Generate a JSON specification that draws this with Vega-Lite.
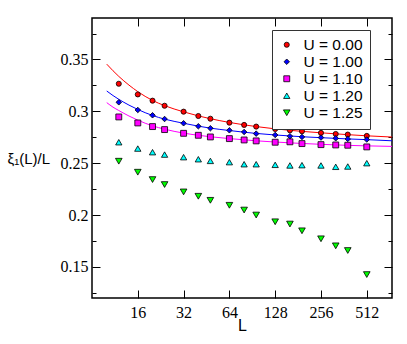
{
  "$schema": "https://vega.github.io/schema/vega-lite/v6.json",
  "width": 300,
  "height": 280,
  "autosize": "none",
  "padding": {"left": 92, "top": 18, "right": 15, "bottom": 46},
  "background": "white",
  "config": {
    "view": {"stroke": "black", "strokeWidth": 1.5},
    "axis": {"grid": false, "domain": false, "tickColor": "black", "tickWidth": 1, "labelColor": "black", "titleColor": "black"}
  },
  "datasets": {
    "pts": [
      {"U": "0.00", "L": 12, "xi": 0.3266}, {"U": "0.00", "L": 16, "xi": 0.3163}, {"U": "0.00", "L": 20, "xi": 0.3103}, {"U": "0.00", "L": 24, "xi": 0.3054}, {"U": "0.00", "L": 32, "xi": 0.2997}, {"U": "0.00", "L": 40, "xi": 0.2955}, {"U": "0.00", "L": 48, "xi": 0.2929}, {"U": "0.00", "L": 64, "xi": 0.2891}, {"U": "0.00", "L": 80, "xi": 0.2869}, {"U": "0.00", "L": 96, "xi": 0.2853}, {"U": "0.00", "L": 128, "xi": 0.2830}, {"U": "0.00", "L": 160, "xi": 0.2817}, {"U": "0.00", "L": 192, "xi": 0.2808}, {"U": "0.00", "L": 256, "xi": 0.2792}, {"U": "0.00", "L": 320, "xi": 0.2782}, {"U": "0.00", "L": 384, "xi": 0.2776}, {"U": "0.00", "L": 512, "xi": 0.2763},
      {"U": "1.00", "L": 12, "xi": 0.3087}, {"U": "1.00", "L": 16, "xi": 0.3013}, {"U": "1.00", "L": 20, "xi": 0.2962}, {"U": "1.00", "L": 24, "xi": 0.2926}, {"U": "1.00", "L": 32, "xi": 0.2885}, {"U": "1.00", "L": 40, "xi": 0.2856}, {"U": "1.00", "L": 48, "xi": 0.2837}, {"U": "1.00", "L": 64, "xi": 0.2817}, {"U": "1.00", "L": 80, "xi": 0.2801}, {"U": "1.00", "L": 96, "xi": 0.2785}, {"U": "1.00", "L": 128, "xi": 0.2772}, {"U": "1.00", "L": 160, "xi": 0.2760}, {"U": "1.00", "L": 192, "xi": 0.2753}, {"U": "1.00", "L": 256, "xi": 0.2747}, {"U": "1.00", "L": 320, "xi": 0.2740}, {"U": "1.00", "L": 384, "xi": 0.2734}, {"U": "1.00", "L": 512, "xi": 0.2728},
      {"U": "1.10", "L": 12, "xi": 0.2946}, {"U": "1.10", "L": 16, "xi": 0.2888}, {"U": "1.10", "L": 20, "xi": 0.2853}, {"U": "1.10", "L": 24, "xi": 0.2824}, {"U": "1.10", "L": 32, "xi": 0.2788}, {"U": "1.10", "L": 40, "xi": 0.2769}, {"U": "1.10", "L": 48, "xi": 0.2753}, {"U": "1.10", "L": 64, "xi": 0.2737}, {"U": "1.10", "L": 80, "xi": 0.2724}, {"U": "1.10", "L": 96, "xi": 0.2715}, {"U": "1.10", "L": 128, "xi": 0.2702}, {"U": "1.10", "L": 160, "xi": 0.2706}, {"U": "1.10", "L": 192, "xi": 0.2689}, {"U": "1.10", "L": 256, "xi": 0.2679}, {"U": "1.10", "L": 320, "xi": 0.2676}, {"U": "1.10", "L": 384, "xi": 0.2673}, {"U": "1.10", "L": 512, "xi": 0.2657},
      {"U": "1.20", "L": 12, "xi": 0.2702}, {"U": "1.20", "L": 16, "xi": 0.2641}, {"U": "1.20", "L": 20, "xi": 0.2606}, {"U": "1.20", "L": 24, "xi": 0.2583}, {"U": "1.20", "L": 32, "xi": 0.2558}, {"U": "1.20", "L": 40, "xi": 0.2538}, {"U": "1.20", "L": 48, "xi": 0.2522}, {"U": "1.20", "L": 64, "xi": 0.2510}, {"U": "1.20", "L": 80, "xi": 0.2490}, {"U": "1.20", "L": 96, "xi": 0.2490}, {"U": "1.20", "L": 128, "xi": 0.2484}, {"U": "1.20", "L": 160, "xi": 0.2478}, {"U": "1.20", "L": 192, "xi": 0.2481}, {"U": "1.20", "L": 256, "xi": 0.2478}, {"U": "1.20", "L": 320, "xi": 0.2465}, {"U": "1.20", "L": 384, "xi": 0.2468}, {"U": "1.20", "L": 512, "xi": 0.2500},
      {"U": "1.25", "L": 12, "xi": 0.2519}, {"U": "1.25", "L": 16, "xi": 0.2413}, {"U": "1.25", "L": 20, "xi": 0.2342}, {"U": "1.25", "L": 24, "xi": 0.2294}, {"U": "1.25", "L": 32, "xi": 0.2223}, {"U": "1.25", "L": 40, "xi": 0.2181}, {"U": "1.25", "L": 48, "xi": 0.2142}, {"U": "1.25", "L": 64, "xi": 0.2094}, {"U": "1.25", "L": 80, "xi": 0.2048}, {"U": "1.25", "L": 96, "xi": 0.2000}, {"U": "1.25", "L": 128, "xi": 0.1935}, {"U": "1.25", "L": 160, "xi": 0.1913}, {"U": "1.25", "L": 192, "xi": 0.1848}, {"U": "1.25", "L": 256, "xi": 0.1771}, {"U": "1.25", "L": 320, "xi": 0.1703}, {"U": "1.25", "L": 384, "xi": 0.1658}, {"U": "1.25", "L": 512, "xi": 0.1426}
    ],
    "fits": [
      {"U": "0.00", "L": 10, "xi": 0.3455}, {"U": "0.00", "L": 11, "xi": 0.3391}, {"U": "0.00", "L": 12, "xi": 0.3337}, {"U": "0.00", "L": 14, "xi": 0.3253}, {"U": "0.00", "L": 16, "xi": 0.3190}, {"U": "0.00", "L": 20, "xi": 0.3105}, {"U": "0.00", "L": 24, "xi": 0.3055}, {"U": "0.00", "L": 32, "xi": 0.2995}, {"U": "0.00", "L": 40, "xi": 0.2956}, {"U": "0.00", "L": 48, "xi": 0.2929}, {"U": "0.00", "L": 64, "xi": 0.2893}, {"U": "0.00", "L": 96, "xi": 0.2853}, {"U": "0.00", "L": 128, "xi": 0.2831}, {"U": "0.00", "L": 192, "xi": 0.2807}, {"U": "0.00", "L": 256, "xi": 0.2793}, {"U": "0.00", "L": 384, "xi": 0.2775}, {"U": "0.00", "L": 512, "xi": 0.2764}, {"U": "0.00", "L": 750, "xi": 0.2752},
      {"U": "1.00", "L": 10, "xi": 0.3196}, {"U": "1.00", "L": 11, "xi": 0.3152}, {"U": "1.00", "L": 12, "xi": 0.3116}, {"U": "1.00", "L": 14, "xi": 0.3060}, {"U": "1.00", "L": 16, "xi": 0.3018}, {"U": "1.00", "L": 20, "xi": 0.2960}, {"U": "1.00", "L": 24, "xi": 0.2925}, {"U": "1.00", "L": 32, "xi": 0.2885}, {"U": "1.00", "L": 40, "xi": 0.2857}, {"U": "1.00", "L": 48, "xi": 0.2838}, {"U": "1.00", "L": 64, "xi": 0.2815}, {"U": "1.00", "L": 96, "xi": 0.2787}, {"U": "1.00", "L": 128, "xi": 0.2772}, {"U": "1.00", "L": 192, "xi": 0.2755}, {"U": "1.00", "L": 256, "xi": 0.2746}, {"U": "1.00", "L": 384, "xi": 0.2734}, {"U": "1.00", "L": 512, "xi": 0.2727}, {"U": "1.00", "L": 750, "xi": 0.2716},
      {"U": "1.10", "L": 10, "xi": 0.3084}, {"U": "1.10", "L": 11, "xi": 0.3040}, {"U": "1.10", "L": 12, "xi": 0.3008}, {"U": "1.10", "L": 14, "xi": 0.2955}, {"U": "1.10", "L": 16, "xi": 0.2915}, {"U": "1.10", "L": 20, "xi": 0.2860}, {"U": "1.10", "L": 24, "xi": 0.2828}, {"U": "1.10", "L": 32, "xi": 0.2790}, {"U": "1.10", "L": 40, "xi": 0.2769}, {"U": "1.10", "L": 48, "xi": 0.2755}, {"U": "1.10", "L": 64, "xi": 0.2737}, {"U": "1.10", "L": 96, "xi": 0.2716}, {"U": "1.10", "L": 128, "xi": 0.2704}, {"U": "1.10", "L": 192, "xi": 0.2690}, {"U": "1.10", "L": 256, "xi": 0.2682}, {"U": "1.10", "L": 384, "xi": 0.2672}, {"U": "1.10", "L": 512, "xi": 0.2667}, {"U": "1.10", "L": 750, "xi": 0.2662}
    ]
  },
  "layer": [
    {
      "data": {"name": "fits"},
      "mark": {"type": "line", "strokeWidth": 1, "interpolate": "monotone", "clip": true},
      "encoding": {
        "x": {"field": "L", "type": "quantitative",
          "scale": {"type": "log", "base": 2, "domain": [8, 750], "nice": false},
          "axis": {"orient": "top", "values": [16, 32, 64, 128, 256, 512], "labels": false, "tickSize": -8, "title": null}},
        "y": {"field": "xi", "type": "quantitative",
          "scale": {"domain": [0.12, 0.39], "nice": false, "zero": false},
          "axis": {"orient": "right", "values": [0.125, 0.15, 0.175, 0.2, 0.225, 0.25, 0.275, 0.3, 0.325, 0.35, 0.375], "labels": false, "title": null,
            "tickSize": {"condition": {"test": "round(datum.value*1000) % 50 != 0", "value": -4}, "value": -8}}},
        "stroke": {"field": "U", "type": "nominal",
          "scale": {"domain": ["0.00", "1.00", "1.10"], "range": ["#ff0000", "#0000ff", "#ff00ff"]}, "legend": null}
      }
    },
    {
      "data": {"name": "pts"},
      "mark": {"type": "point", "filled": true, "stroke": "black", "strokeWidth": 0.8, "opacity": 1},
      "encoding": {
        "x": {"field": "L", "type": "quantitative",
          "scale": {"type": "log", "base": 2, "domain": [8, 750], "nice": false},
          "axis": {"orient": "bottom", "values": [16, 32, 64, 128, 256, 512], "format": "d", "tickSize": -8, "labelPadding": 14,
            "labelFont": "Liberation Serif", "labelFontSize": 16, "title": "L", "titleFont": "Liberation Sans", "titleFontSize": 16, "titleFontWeight": "normal",
            "titleX": 150, "titleY": 32, "titleBaseline": "alphabetic"}},
        "y": {"field": "xi", "type": "quantitative",
          "scale": {"domain": [0.12, 0.39], "nice": false, "zero": false},
          "axis": {"orient": "left", "values": [0.125, 0.15, 0.175, 0.2, 0.225, 0.25, 0.275, 0.3, 0.325, 0.35, 0.375],
            "labelExpr": "round(datum.value*1000) % 50 == 0 ? format(datum.value, '.2~f') : ''",
            "tickSize": {"condition": {"test": "round(datum.value*1000) % 50 != 0", "value": -4}, "value": -8},
            "labelPadding": 12, "labelFont": "Liberation Serif", "labelFontSize": 16,
            "title": "ξ₁(L)/L", "titleAngle": 0, "titleAlign": "left", "titleBaseline": "middle", "titleX": -85, "titleY": 140,
            "titleFont": "Liberation Sans", "titleFontSize": 15, "titleFontWeight": "normal"}},
        "size": {"field": "U", "type": "nominal",
          "scale": {"domain": ["0.00", "1.00", "1.10", "1.20", "1.25"], "range": [26, 44, 40, 46, 46]}},
        "shape": {"field": "U", "type": "nominal",
          "scale": {"domain": ["0.00", "1.00", "1.10", "1.20", "1.25"], "range": ["circle", "diamond", "square", "triangle-up", "triangle-down"]}},
        "color": {"field": "U", "type": "nominal",
          "scale": {"domain": ["0.00", "1.00", "1.10", "1.20", "1.25"], "range": ["#ff0000", "#0000ff", "#ff00ff", "#00ffff", "#00ff00"]},
          "legend": {"orient": "none", "legendX": 180, "legendY": 12, "title": null, "labelExpr": "'U = ' + datum.label",
            "labelFont": "Liberation Sans", "labelFontSize": 15.5, "labelFontWeight": "normal", "labelColor": "black", "labelOffset": 9,
            "symbolStrokeColor": "black", "symbolStrokeWidth": 0.8, "symbolOpacity": 1,
            "rowPadding": -2, "padding": 7, "strokeColor": "#333", "fillColor": "white"}}
      }
    }
  ],
  "resolve": {"axis": {"x": "independent", "y": "independent"}}
}
